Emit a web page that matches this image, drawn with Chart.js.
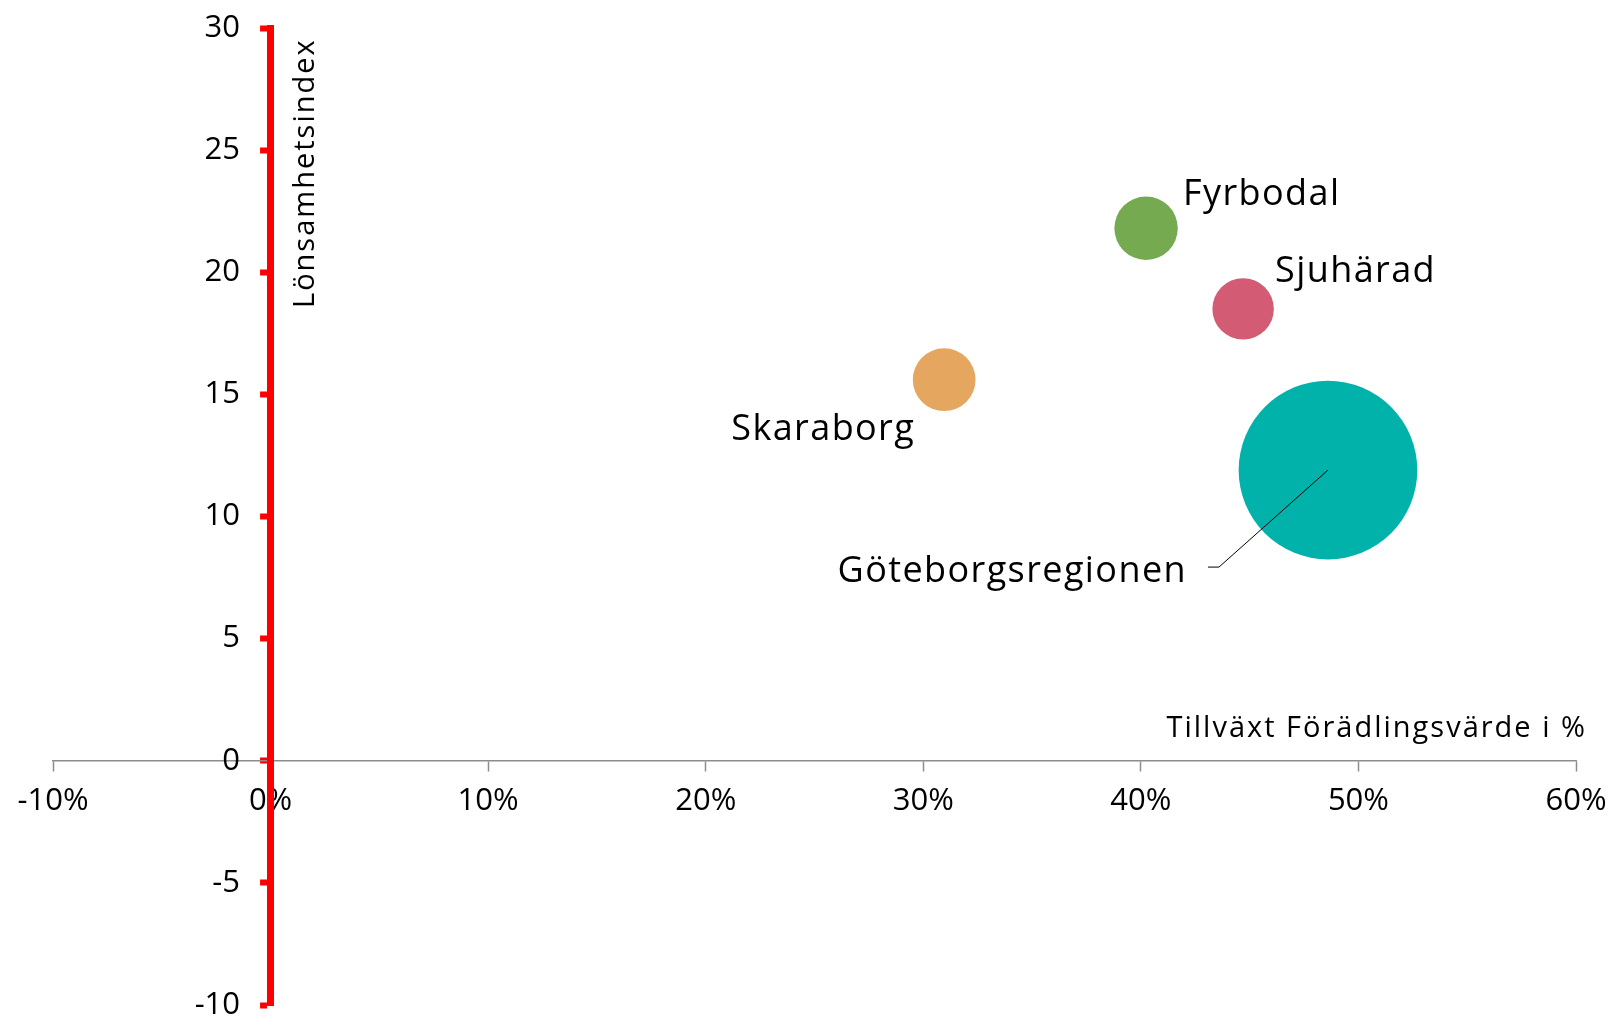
<!DOCTYPE html>
<html>
<head>
<meta charset="utf-8">
<script src="https://cdn.jsdelivr.net/npm/chart.js@4.4.1/dist/chart.umd.min.js"></script>
<style>
html,body{margin:0;padding:0;background:#fff;}
#wrap{width:1613px;height:1019px;position:relative;}
</style>
</head>
<body>
<div id="wrap"><canvas id="c"></canvas></div>
<script>
// ---- data ----
const regions = ['Skaraborg', 'Fyrbodal', 'Sjuhärad', 'Göteborgsregionen'];
const growthPct = [30.96, 40.24, 44.7, 48.6];        // Tillväxt Förädlingsvärde i %
const profitIndex = [15.6, 21.8, 18.5, 11.9];       // Lönsamhetsindex
const bubbleSize = [98, 100, 94, 794];              // relative bubble size
const xTitle = 'Tillväxt Förädlingsvärde i %';
const yTitle = 'Lönsamhetsindex';
const xMin = -10, xMax = 60, xStep = 10;
const yMin = -10, yMax = 30, yStep = 5;

// ---- styles ----
const colors = ['#E5A75F', '#75AA50', '#D35B73', '#00B2A9'];
const labelStyle = [
  {align: 'right', dx: -29, dy: 60},
  {align: 'left', dx: 37, dy: -23},
  {align: 'left', dx: 32, dy: -27},
  {align: 'right', dx: -141, dy: 112, leader: true}
];
const FONT = '"Open Sans", "Noto Sans", sans-serif';
const plotArea = {left: 53, top: 28, right: 1576, bottom: 1005};

const points = regions.map((name, i) => ({
  x: growthPct[i], y: profitIndex[i], r: 31.7 * Math.sqrt(bubbleSize[i] / 100)
}));

const areaPlugin = {
  id: 'fixedArea',
  afterLayout(chart) {
    const a = plotArea;
    Object.assign(chart.chartArea, a, {width: a.right - a.left, height: a.bottom - a.top});
    const xs = chart.scales.x, ys = chart.scales.y;
    xs.left = a.left; xs.right = a.right; xs.width = a.right - a.left;
    xs.configure();
    ys.top = a.top; ys.bottom = a.bottom; ys.height = a.bottom - a.top;
    const x0 = xs.getPixelForValue(0);
    ys.right = x0; ys.left = x0 - ys.width;
    ys.configure();
  }
};

const labelsPlugin = {
  id: 'bubbleLabels',
  afterDraw(chart) {
    const ctx = chart.ctx;
    const xs = chart.scales.x, ys = chart.scales.y;
    ctx.save();
    ctx.fillStyle = '#000';
    if ('letterSpacing' in ctx) ctx.letterSpacing = '1.4px';
    ctx.font = '36px ' + FONT;
    ctx.textBaseline = 'alphabetic';
    const meta = chart.getDatasetMeta(0);
    meta.data.forEach((el, i) => {
      const st = labelStyle[i];
      ctx.textAlign = st.align;
      const tx = el.x + st.dx, ty = el.y + st.dy;
      ctx.fillText(regions[i], tx, ty);
      if (st.leader) {
        ctx.beginPath();
        ctx.strokeStyle = '#000';
        ctx.lineWidth = 1;
        ctx.moveTo(el.x, el.y);
        ctx.lineTo(el.x - 109, el.y + 97);
        ctx.lineTo(el.x - 120, el.y + 97);
        ctx.stroke();
      }
    });
    // axis titles
    if ('letterSpacing' in ctx) ctx.letterSpacing = '2px';
    ctx.font = '29px ' + FONT;
    ctx.textAlign = 'right';
    ctx.fillText(xTitle, xs.right + 11, ys.getPixelForValue(0) - 24);
    ctx.translate(xs.getPixelForValue(0) + 43, ys.top + 280);
    ctx.rotate(-Math.PI / 2);
    ctx.textAlign = 'left';
    ctx.fillText(yTitle, 0, 0);
    ctx.restore();
  }
};

new Chart(document.getElementById('c'), {
  type: 'bubble',
  data: {
    datasets: [{
      data: points,
      backgroundColor: colors,
      borderWidth: 0,
      hoverBorderWidth: 0
    }]
  },
  options: {
    responsive: true,
    maintainAspectRatio: false,
    animation: false,
    events: [],
    layout: {padding: 0},
    plugins: {legend: {display: false}, tooltip: {enabled: false}, title: {display: false}},
    scales: {
      x: {
        type: 'linear',
        min: xMin, max: xMax,
        position: {y: 0},
        ticks: {
          stepSize: xStep,
          callback: v => v + '%',
          font: {family: FONT, size: 31},
          color: '#000',
          padding: 12,
          maxRotation: 0
        },
        grid: {drawOnChartArea: false, drawTicks: true, tickLength: 10, tickColor: '#8C8C8C', tickWidth: 1.5},
        border: {display: true, color: '#8C8C8C', width: 1.5}
      },
      y: {
        type: 'linear',
        min: yMin, max: yMax,
        position: 'left',
        ticks: {
          stepSize: yStep,
          font: {family: FONT, size: 31},
          color: '#000',
          padding: 20
        },
        grid: {drawOnChartArea: false, drawTicks: true, tickLength: 10.5, tickColor: '#FF0000', tickWidth: 6},
        border: {display: true, color: '#FF0000', width: 7, z: 1}
      }
    }
  },
  plugins: [areaPlugin, labelsPlugin]
});
</script>
</body>
</html>
